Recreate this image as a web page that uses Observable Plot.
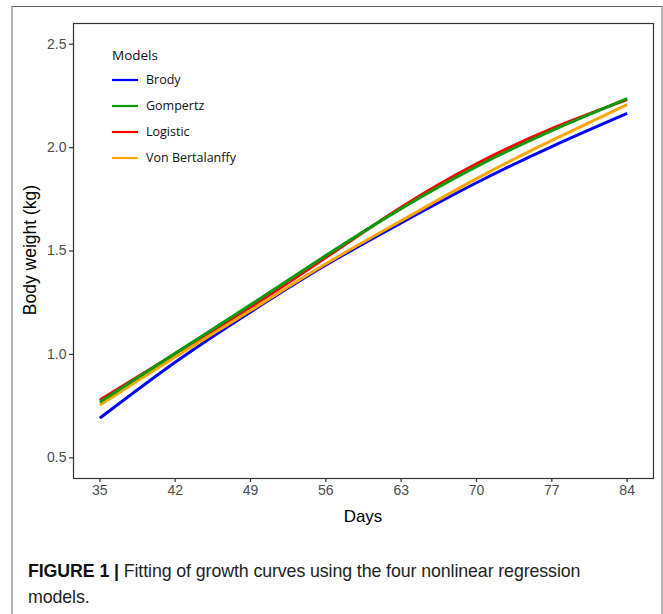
<!DOCTYPE html>
<html>
<head>
<meta charset="utf-8">
<script src="https://cdn.jsdelivr.net/npm/d3@7"></script>
<script src="https://cdn.jsdelivr.net/npm/@observablehq/plot@0.6"></script>
<style>
  html, body { margin: 0; padding: 0; background: #fff; }
  #wrap { position: relative; width: 663px; height: 614px; overflow: hidden; background: #fff; }
  #frame { position: absolute; left: 11px; top: 6px; width: 648px; height: 640px;
           border-left: 2px solid #b4b4b4; border-right: 2px solid #b4b4b4; border-top: 1.5px solid #666; }
  #chart { position: absolute; left: 0; top: 0; }
  #caption { position: absolute; left: 28px; top: 558px; width: 620px;
             font-family: "Liberation Sans", Arial, sans-serif;
             font-size: 17.8px; line-height: 26px; color: #222; letter-spacing: -0.1px; }
  #caption b { color: #111; }
</style>
</head>
<body>
<div id="wrap">
  <div id="frame"></div>
  <div id="chart"></div>
  <div id="caption"><b>FIGURE 1 |</b> Fitting of growth curves using the four nonlinear regression<br>models.</div>
</div>
<script>
// Data
const days = [35, 42, 49, 56, 63, 70, 77, 84];
const modelNames = ["Brody", "Gompertz", "Logistic", "Von Bertalanffy"];
const modelColors = ["#0000ff", "#0a9a0a", "#ff0000", "#ffa500"];
const brody          = [0.692, 0.962, 1.205, 1.432, 1.636, 1.830, 2.005, 2.165];
const gompertz       = [0.769, 1.005, 1.240, 1.478, 1.705, 1.908, 2.082, 2.237];
const logistic       = [0.779, 1.003, 1.228, 1.468, 1.712, 1.922, 2.092, 2.232];
const vonBertalanffy = [0.755, 0.988, 1.212, 1.438, 1.646, 1.850, 2.035, 2.208];
const xTicks = [35, 42, 49, 56, 63, 70, 77, 84];
const yTicks = [0.5, 1.0, 1.5, 2.0, 2.5];

const seriesByName = {
  "Brody": brody, "Gompertz": gompertz, "Logistic": logistic, "Von Bertalanffy": vonBertalanffy
};
// drawing order (last on top)
const drawOrder = ["Brody", "Logistic", "Von Bertalanffy", "Gompertz"];
const rows = [];
for (const m of drawOrder) {
  seriesByName[m].forEach((v, i) => rows.push({model: m, day: days[i], weight: v}));
}

const W = 663, H = 540;
const plot = Plot.plot({
  width: W, height: H,
  marginLeft: 73, marginRight: 10, marginTop: 23, marginBottom: H - 478,
  style: {fontFamily: "'Liberation Sans', Arial, sans-serif", fontSize: "13px", background: "transparent"},
  x: {domain: [32.55, 86.45], ticks: xTicks, tickFormat: d => String(d), tickSize: 4, tickPadding: 3, label: null},
  y: {domain: [0.4, 2.6], ticks: yTicks, tickFormat: d3.format(".1f"), tickSize: 4, tickPadding: 3, label: null},
  color: {domain: modelNames, range: modelColors},
  marks: [
    Plot.line(rows, {x: "day", y: "weight", z: "model", stroke: "model", strokeWidth: 3, curve: "natural", strokeLinecap: "butt"}),
    Plot.frame({stroke: "#333", strokeWidth: 1.2})
  ]
});
document.getElementById("chart").appendChild(plot);

const svg = d3.select(plot);
svg.selectAll('g[aria-label="x-axis tick"], g[aria-label="y-axis tick"]').attr("stroke", "#333").attr("stroke-width", 1.2);
svg.selectAll('g[aria-label="x-axis tick label"] text, g[aria-label="y-axis tick label"] text')
  .attr("fill", "#4d4d4d")
  .style("font-size", "14px").style("font-family", "'Liberation Sans', Arial, sans-serif");

// axis titles
svg.append("text").attr("x", 363).attr("y", 522).attr("text-anchor", "middle")
  .style("font-family", "'Liberation Sans', Arial, sans-serif").style("font-size", "17px").attr("fill", "#000").text("Days");
svg.append("text").attr("transform", "translate(36,250) rotate(-90)").attr("text-anchor", "middle")
  .style("font-family", "'Liberation Sans', Arial, sans-serif").style("font-size", "17.5px").attr("fill", "#000").text("Body weight (kg)");

// legend
const lg = svg.append("g").attr("fill", "#111").attr("text-anchor", "start");
lg.append("text").attr("x", 112).attr("y", 60)
  .style("font-family", "'Open Sans', 'Noto Sans', sans-serif").style("font-size", "13.5px").text("Models");
modelNames.forEach((m, i) => {
  const y = 80 + i * 26;
  lg.append("line").attr("x1", 112).attr("x2", 138).attr("y1", y).attr("y2", y)
    .attr("stroke", modelColors[i]).attr("stroke-width", 2.2);
  lg.append("text").attr("x", 146).attr("y", y).attr("dy", "0.35em")
    .style("font-family", "'Open Sans', 'Noto Sans', sans-serif").style("font-size", "12.5px").text(m);
});
</script>
</body>
</html>
